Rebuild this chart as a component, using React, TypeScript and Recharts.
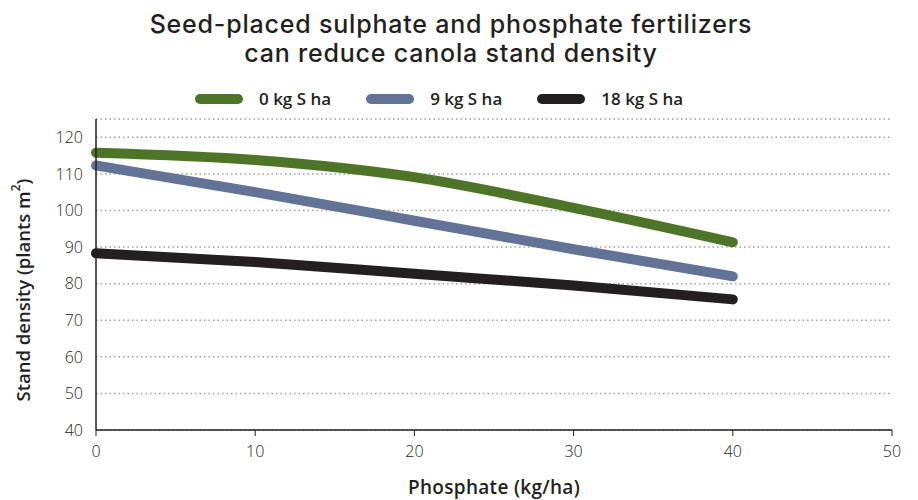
import { LineChart, Line, XAxis, YAxis, CartesianGrid } from 'recharts';

// phosphate rate (kg/ha)
const phosphate = [0, 10, 20, 30, 40];

// stand density (plants m²) for each sulphate rate
const sulphate0 = [115.8, 113.8, 109.1, 100.7, 91.3];
const sulphate9 = [112.3, 105.0, 97.2, 89.4, 82.0];
const sulphate18 = [88.3, 85.9, 82.7, 79.5, 75.7];

const xTicks = [0, 10, 20, 30, 40, 50];
const yTicks = [40, 50, 60, 70, 80, 90, 100, 110, 120];

const SERIES = [
    { key: 's0', name: '0 kg S ha', color: '#4e7527' },
    { key: 's9', name: '9 kg S ha', color: '#627397' },
    { key: 's18', name: '18 kg S ha', color: '#231f20' },
];

const INK = '#231f20';
const FONT = '"Open Sans", sans-serif';
const TITLE_FONT = 'Inter, "Open Sans", sans-serif';

function App() {
    const data = phosphate.map((p, i) => ({
        p,
        s0: sulphate0[i],
        s9: sulphate9[i],
        s18: sulphate18[i],
    }));

    const titleStyle = {
        position: 'absolute' as const, left: 0, width: 902, textAlign: 'center' as const,
        fontFamily: TITLE_FONT, fontSize: 25, lineHeight: '28px', fontWeight: 500,
        letterSpacing: 0.8, whiteSpace: 'nowrap' as const
    };

    return (
        <div style={{ position: 'absolute', left: 0, top: 0, width: 918, height: 500, background: '#fff', fontFamily: FONT, color: INK }}>
            {/* title, two lines */}
            <div style={{ ...titleStyle, top: 10 }}>Seed-placed sulphate and phosphate fertilizers</div>
            <div style={{ ...titleStyle, top: 39 }}>can reduce canola stand density</div>
            {/* legend */}
            <div style={{ position: 'absolute', left: 195, top: 87, display: 'flex', alignItems: 'center', gap: 35 }}>
                {SERIES.map(s => (
                    <div key={s.key} style={{ display: 'flex', alignItems: 'center', gap: 16 }}>
                        <span style={{ display: 'inline-block', width: 48, height: 10, borderRadius: 5, background: s.color }} />
                        <span style={{ fontSize: 17, fontWeight: 600 }}>{s.name}</span>
                    </div>
                ))}
            </div>
            <div style={{ position: 'absolute', left: 0, top: 0 }}>
                <LineChart width={918} height={500} data={data}
                    margin={{ top: 119, right: 26, bottom: 0, left: 0 }}>
                    <CartesianGrid vertical={false} stroke="#a0a0a0" strokeWidth={1.5} strokeDasharray="1.5 3" />
                    <XAxis dataKey="p" type="number" domain={[0, 50]} ticks={xTicks}
                        height={70} tickSize={6} tickMargin={10}
                        axisLine={{ stroke: INK, strokeWidth: 1.5 }}
                        tickLine={{ stroke: INK, strokeWidth: 1 }}
                        tick={{ fontSize: 16, fill: INK, fontFamily: FONT, fontWeight: 300 }}
                        label={() => (
                            <text x={494} y={494} textAnchor="middle" fontSize={19} fontWeight={600}
                                letterSpacing={0.3} fill={INK} fontFamily={FONT}>
                                Phosphate (kg/ha)
                            </text>
                        )} />
                    <YAxis type="number" domain={[40, 125]} ticks={yTicks} width={96}
                        tickSize={6} tickMargin={7} tickLine={false}
                        axisLine={{ stroke: INK, strokeWidth: 1.5 }}
                        tick={{ fontSize: 16, fill: INK, fontFamily: FONT, fontWeight: 300 }}
                        label={() => (
                            <text x={22} y={290} transform="rotate(-90 22 290)" textAnchor="middle"
                                dominantBaseline="central" fontSize={18.5} fontWeight={600} fill={INK} fontFamily={FONT}>
                                Stand density (plants m<tspan fontSize={12} dy={-7}>2</tspan><tspan dy={7}>)</tspan>
                            </text>
                        )} />
                    {SERIES.map(s => (
                        <Line key={s.key} dataKey={s.key} name={s.name} type="monotone"
                            stroke={s.color} strokeWidth={10} strokeLinecap="round"
                            dot={false} activeDot={false} isAnimationActive={false} />
                    ))}
                </LineChart>
            </div>
        </div>
    );
}

export default App;
